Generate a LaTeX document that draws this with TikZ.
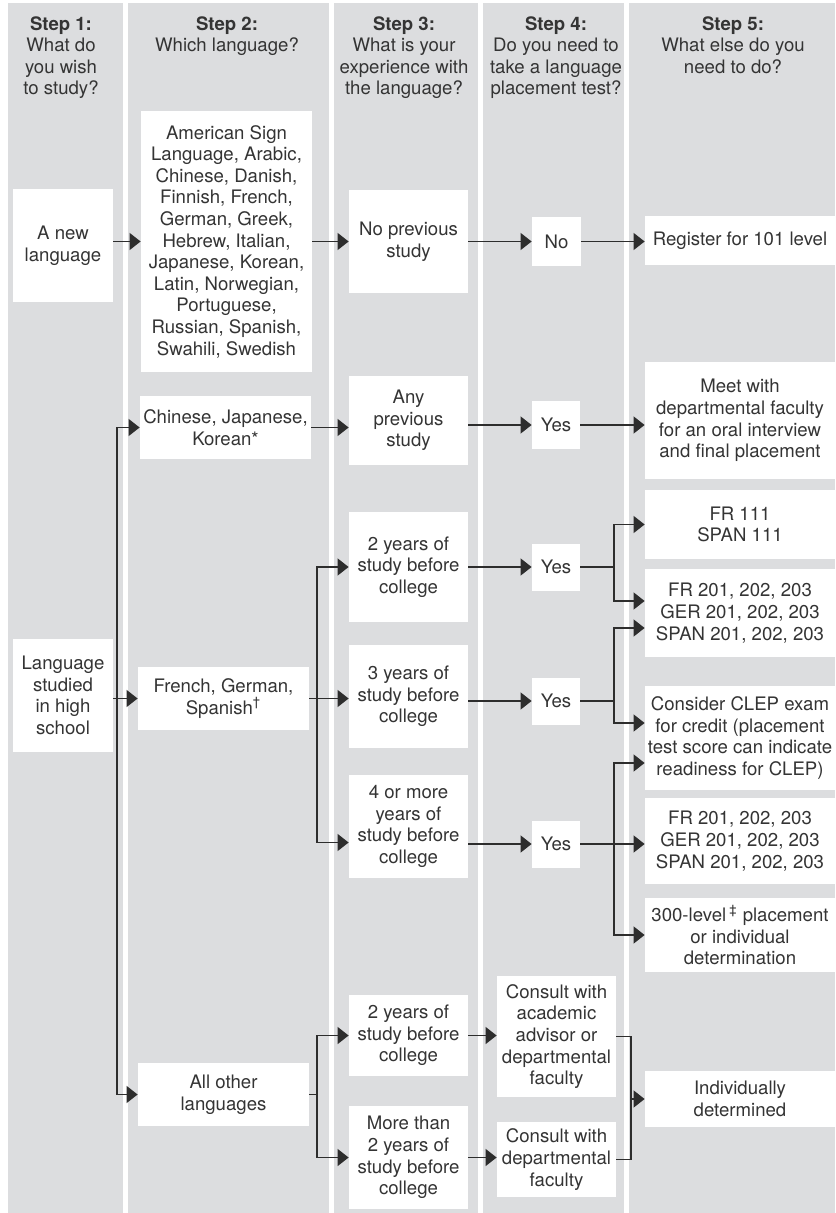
\documentclass[tikz,border=0pt]{standalone}
\usepackage{fontspec}
\setmainfont{TeX Gyre Heros}
\usetikzlibrary{arrows.meta}
\definecolor{colbg}{RGB}{220,221,223}
\definecolor{txt}{RGB}{52,52,52}
\definecolor{lncol}{RGB}{45,45,45}

\begin{document}
\begin{tikzpicture}[x=0.5pt,y=-0.5pt,
    font=\fontsize{9.3}{10.8}\selectfont,
    box/.style={fill=white,text=txt,align=center,inner sep=0pt},
    hdr/.style={text=txt,align=center,inner sep=0pt,anchor=north},
    ln/.style={draw=lncol,line width=0.6pt},
    arr/.style={ln,-{Triangle[length=5.5pt,width=8.5pt]}}]

    	\useasboundingbox (0,0) rectangle (835,1213);
    	\foreach \a/\b in {8/123,128/329,334/478,483/624,629/835}
    		\fill[colbg] (\a,3) rectangle (\b,1213);

    	\node[hdr] (h1) at (61,16) {\textbf{Step 1:}\\What do\\you wish\\to study?};
    	\node[hdr] (h2) at (227,16) {\textbf{Step 2:}\\Which language?};
    	\node[hdr] (h3) at (404,16) {\textbf{Step 3:}\\What is your\\experience with\\the language?};
    	\node[hdr] (h4) at (556,16) {\textbf{Step 4:}\\Do you need to\\take a language\\placement test?};
    	\node[hdr] (h5) at (733,16) {\textbf{Step 5:}\\What else do you\\need to do?};

    	\node[box,minimum width=50pt,minimum height=56.5pt] (new) at (63,245.5) {A new\\language};
    	\node[box,minimum width=50pt,minimum height=56.5pt] (lhs) at (63,695.5) {Language\\studied\\in high\\school};

    	\node[box,minimum width=85.5pt,minimum height=130.5pt] (lst) at (226.5,241.5) {American Sign\\Language, Arabic,\\Chinese, Danish,\\Finnish, French,\\German, Greek,\\Hebrew, Italian,\\Japanese, Korean,\\Latin, Norwegian,\\Portuguese,\\Russian, Spanish,\\Swahili, Swedish};
    	\node[box,minimum width=85.5pt,minimum height=31.5pt] (cjk) at (225.5,427.5) {Chinese, Japanese,\\Korean*};
    	\node[box,minimum width=85.5pt,minimum height=31.5pt] (fgs) at (223.5,698.5) {French, German,\\Spanish\textsuperscript{\textdagger}};
    	\node[box,minimum width=85.5pt,minimum height=31.5pt] (oth) at (223.5,1094.5) {All other\\languages};

    	\node[box,minimum width=59.5pt,minimum height=51.5pt] (nop) at (408.5,241.5) {No previous\\study};
    	\node[box,minimum width=59.5pt,minimum height=44.5pt] (any) at (408.5,420.5) {Any\\previous\\study};
    	\node[box,minimum width=59.5pt,minimum height=55pt] (two) at (408.5,567) {2 years of\\study before\\college};
    	\node[box,minimum width=59.5pt,minimum height=51.5pt] (three) at (408.5,696.5) {3 years of\\study before\\college};
    	\node[box,minimum width=59.5pt,minimum height=51.5pt] (four) at (408.5,826.5) {4 or more\\years of\\study before\\college};
    	\node[box,minimum width=59.5pt,minimum height=40.5pt] (twoo) at (408.5,1035.5) {2 years of\\study before\\college};
    	\node[box,minimum width=59.5pt,minimum height=51.5pt] (more) at (408.5,1157.5) {More than\\2 years of\\study before\\college};

    	\node[box,minimum width=24.5pt,minimum height=24.5pt] (no) at (556.5,241.5) {No};
    	\node[box,minimum width=24pt,minimum height=23.5pt] (yes1) at (556,425) {Yes};
    	\node[box,minimum width=24pt,minimum height=23.5pt] (yes2) at (556,567) {Yes};
    	\node[box,minimum width=24pt,minimum height=23.5pt] (yes3) at (556,701) {Yes};
    	\node[box,minimum width=24pt,minimum height=23.5pt] (yes4) at (556,844) {Yes};
    	\node[box,minimum width=59.5pt,minimum height=60.5pt] (cons1) at (556.5,1036.5) {Consult with\\academic\\advisor or\\departmental\\faculty};
    	\node[box,minimum width=59.5pt,minimum height=37.5pt] (cons2) at (556.5,1159.5) {Consult with\\departmental\\faculty};

    	\node[box,minimum width=95pt,minimum height=24.5pt] (reg) at (740,240.5) {Register for 101 level};
    	\node[box,minimum width=95pt,minimum height=58.5pt] (meet) at (740,420.5) {Meet with\\departmental faculty\\for an oral interview\\and final placement};
    	\node[box,minimum width=95pt,minimum height=34.5pt] (fr111) at (740,524.5) {FR 111\\SPAN 111};
    	\node[box,minimum width=95pt,minimum height=44pt] (fra) at (740,613) {FR 201, 202, 203\\GER 201, 202, 203\\SPAN 201, 202, 203};
    	\node[box,minimum width=95pt,minimum height=52pt] (clep) at (740,738) {Consider CLEP exam\\for credit (placement\\test score can indicate\\readiness for CLEP)};
    	\node[box,minimum width=95pt,minimum height=43pt] (frb) at (740,841) {FR 201, 202, 203\\GER 201, 202, 203\\SPAN 201, 202, 203};
    	\node[box,minimum width=95pt,minimum height=37pt] (lvl) at (740,935) {300-level\,\textsuperscript{\textdaggerdbl} placement\\or individual\\determination};
    	\node[box,minimum width=95pt,minimum height=28pt] (ind) at (740,1099) {Individually\\determined};

    	\coordinate (t1) at (117,698);
    	\coordinate (t2) at (317,698);
    	\coordinate (t3) at (317,1094.5);
    	\coordinate (f2) at (614,567);
    	\coordinate (f3) at (614,701);
    	\coordinate (f4) at (614,844);
    	\coordinate (m) at (631,1099);

    	\draw[arr] (new.east |- lst) -- (lst);
    	\draw[arr] (lst) -- (lst -| nop.west);
    	\draw[arr] (nop) -- (no);
    	\draw[arr] (no) -- (no -| reg.west);

    	\draw[arr] (lhs.east |- fgs) -- (fgs);
    	\draw[arr] (t1) |- (cjk);
    	\draw[arr] (t1) |- (oth);
    	\draw[arr] (cjk) -- (cjk -| any.west);
    	\draw[arr] (any.east |- yes1) -- (yes1);
    	\draw[arr] (yes1) -- (yes1 -| meet.west);

    	\draw[arr] (fgs.east) -- (fgs.east -| three.west);
    	\draw[arr] (t2) |- (two);
    	\draw[arr] (t2) |- ([yshift=-8pt]four.west);
    	\draw[arr] (two) -- (yes2);
    	\draw[arr] (three.east |- yes3) -- (yes3);
    	\draw[arr] (four.east |- yes4) -- (yes4);

    	\draw[ln] (yes2) -- (f2);
    	\draw[arr] (f2) |- (fr111);
    	\draw[arr] (f2) |- ([yshift=6pt]fra.west);
    	\draw[ln] (yes3) -- (f3);
    	\draw[arr] (f3) |- ([yshift=-7.5pt]fra.west);
    	\draw[arr] (f3) |- ([yshift=7.5pt]clep.west);
    	\draw[arr] (yes4) -- (yes4 -| frb.west);
    	\draw[arr] (f4) |- ([yshift=-12.5pt]clep.west);
    	\draw[arr] (f4) |- (lvl);

    	\draw[ln] (oth) -- (t3);
    	\draw[arr] (t3) |- (twoo);
    	\draw[arr] (t3) |- (more);
    	\draw[arr] (twoo) -- (twoo -| cons1.west);
    	\draw[arr] (more) -- (more -| cons2.west);
    	\draw[ln] (cons1) -| (m);
    	\draw[ln] (cons2) -| (m);
    	\draw[arr] (m) -- (ind);
    \end{tikzpicture}
\end{document}
